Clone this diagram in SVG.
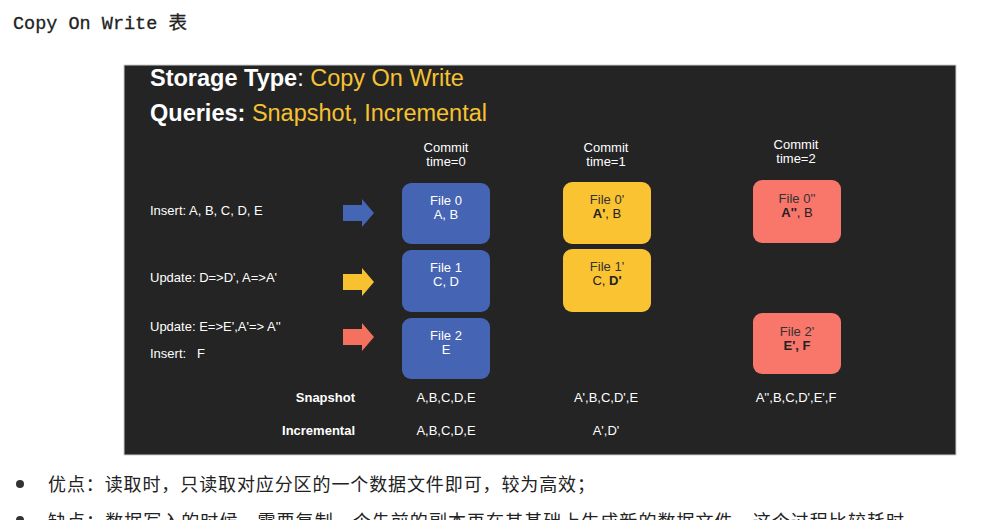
<svg xmlns="http://www.w3.org/2000/svg" width="984" height="520" viewBox="0 0 984 520">
<style>
.l{font-family:"Liberation Sans",Arial,sans-serif;font-size:13px;fill:#ffffff}
.c{font-family:"Liberation Sans",Arial,sans-serif;font-size:13px;fill:#ffffff;text-anchor:middle}
.b{font-family:"Liberation Sans",Arial,sans-serif;font-size:13px;fill:#ffffff;text-anchor:end;font-weight:bold}
.bt{font-family:"Liberation Sans",Arial,sans-serif;font-size:13px;text-anchor:middle}
.h{font-family:"Liberation Sans",Arial,sans-serif;font-size:23.5px}
.cn{font-family:"Noto Sans CJK SC",sans-serif;font-size:18px;fill:#222222}
</style>
<defs>
<path id="arr" d="M0,-8 H19 V-14 L31,0 L19,14 V8 H0 Z"/>
</defs>
<rect width="984" height="520" fill="#ffffff"/>
<text x="13" y="29" font-family="'Liberation Mono','Noto Sans CJK SC',monospace" font-size="18.5" fill="#222222" stroke="#222222" stroke-width="0.3">Copy On Write 表</text>
<rect x="124" y="65" width="832" height="390" fill="#242424" stroke="#cfcfcf" stroke-width="1"/>
<text x="150" y="86" class="h"><tspan fill="#ffffff" font-weight="bold">Storage Type</tspan><tspan fill="#ffffff">: </tspan><tspan fill="#F6C232">Copy On Write</tspan></text>
<text x="150" y="121" class="h"><tspan fill="#ffffff" font-weight="bold">Queries: </tspan><tspan fill="#F6C232">Snapshot, Incremental</tspan></text>
<text x="446" y="152" class="c">Commit</text><text x="446" y="166" class="c">time=0</text>
<text x="606" y="152" class="c">Commit</text><text x="606" y="166" class="c">time=1</text>
<text x="796" y="149" class="c">Commit</text><text x="796" y="163" class="c">time=2</text>
<text x="150" y="215" class="l">Insert: A, B, C, D, E</text>
<text x="150" y="282" class="l">Update: D=&gt;D', A=&gt;A'</text>
<text x="150" y="331" class="l">Update: E=&gt;E',A'=&gt; A''</text>
<text x="150" y="358" class="l">Insert:<tspan x="197">F</tspan></text>
<g id="connectors">
<use href="#arr" x="343" y="213" fill="#4565B5"/>
<use href="#arr" x="343" y="282" fill="#F7C12F"/>
<use href="#arr" x="343" y="337" fill="#F4705F"/>
</g>
<g id="file0"><rect x="402" y="183" width="88" height="61" rx="9" fill="#4564B4"/><text x="446" y="205" class="bt" fill="#ffffff">File 0</text><text x="446" y="219" class="bt" fill="#ffffff">A, B</text></g>
<g id="file1"><rect x="402" y="250" width="88" height="62" rx="9" fill="#4564B4"/><text x="446" y="272" class="bt" fill="#ffffff">File 1</text><text x="446" y="286" class="bt" fill="#ffffff">C, D</text></g>
<g id="file2"><rect x="402" y="318" width="88" height="61" rx="9" fill="#4564B4"/><text x="446" y="340" class="bt" fill="#ffffff">File 2</text><text x="446" y="354" class="bt" fill="#ffffff">E</text></g>
<g id="file0p"><rect x="563" y="182" width="88" height="62" rx="9" fill="#F9C332"/><text x="607" y="204" class="bt" fill="#333333">File 0'</text><text x="607" y="218" class="bt" fill="#222222"><tspan font-weight="bold">A'</tspan>, B</text></g>
<g id="file1p"><rect x="563" y="249" width="88" height="63" rx="9" fill="#F9C332"/><text x="607" y="271" class="bt" fill="#333333">File 1'</text><text x="607" y="285" class="bt" fill="#222222">C, <tspan font-weight="bold">D'</tspan></text></g>
<g id="file0pp"><rect x="753" y="180" width="88" height="63" rx="9" fill="#F8766A"/><text x="797" y="203" class="bt" fill="#333333">File 0''</text><text x="797" y="217" class="bt" fill="#222222"><tspan font-weight="bold">A''</tspan>, B</text></g>
<g id="file2p"><rect x="753" y="313" width="88" height="61" rx="9" fill="#F8766A"/><text x="797" y="336" class="bt" fill="#333333">File 2'</text><text x="797" y="350" class="bt" fill="#222222" font-weight="bold">E', F</text></g>
<text x="355" y="402" class="b">Snapshot</text>
<text x="355" y="435" class="b">Incremental</text>
<text x="446" y="402" class="c">A,B,C,D,E</text>
<text x="606" y="402" class="c">A',B,C,D',E</text>
<text x="796" y="402" class="c">A'',B,C,D',E',F</text>
<text x="446" y="435" class="c">A,B,C,D,E</text>
<text x="606" y="435" class="c">A',D'</text>
<circle cx="20" cy="484" r="4" fill="#333333"/>
<text x="48" y="491" class="cn" textLength="547" lengthAdjust="spacing">优点：读取时，只读取对应分区的一个数据文件即可，较为高效；</text>
<circle cx="20" cy="520" r="4" fill="#333333"/>
<text x="48" y="528" class="cn" textLength="856" lengthAdjust="spacing">缺点：数据写入的时候，需要复制一个先前的副本再在其基础上生成新的数据文件，这个过程比较耗时</text>
</svg>
